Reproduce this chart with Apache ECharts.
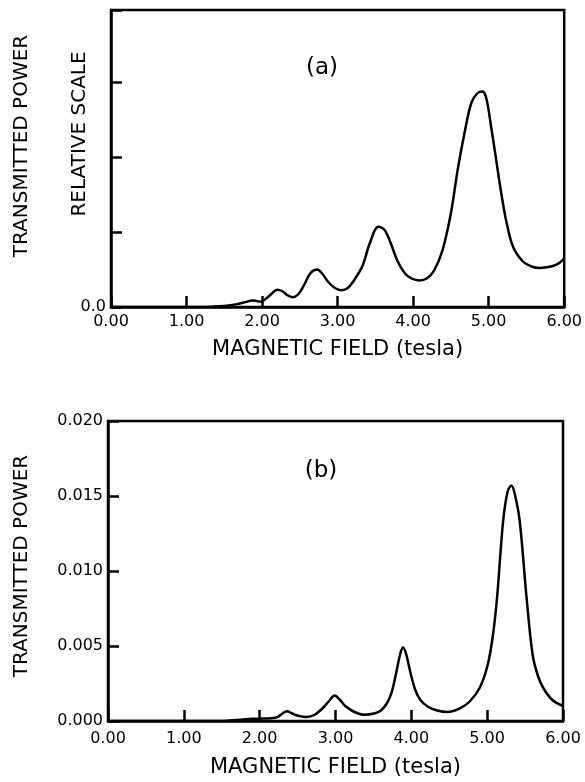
<!DOCTYPE html>
<html>
<head>
<meta charset="utf-8">
<script src="https://cdn.jsdelivr.net/npm/echarts@6/dist/echarts.min.js"></script>
<style>
html,body{margin:0;padding:0;background:#fff;}
#chart{width:585px;height:782px;}
</style>
</head>
<body>
<div id="chart"></div>
<script>
// Panel (a): magnetic field (tesla) and transmitted power (relative scale)
const fieldA = [0.0,0.5,1.0,1.2,1.35,1.5,1.65,1.78,1.87,1.93,1.98,2.05,2.12,2.20,2.27,2.33,2.40,2.48,2.56,2.64,2.73,2.80,2.88,2.97,3.05,3.13,3.22,3.33,3.43,3.54,3.62,3.70,3.79,3.89,3.98,4.08,4.18,4.28,4.39,4.50,4.59,4.68,4.77,4.85,4.92,4.97,5.03,5.10,5.16,5.23,5.32,5.45,5.57,5.67,5.77,5.86,5.94,6.0];
const powerA = [0.0,0.0,0.0,0.0,0.005,0.015,0.035,0.065,0.088,0.08,0.07,0.11,0.17,0.23,0.21,0.16,0.13,0.17,0.30,0.45,0.50,0.44,0.33,0.25,0.225,0.25,0.36,0.55,0.86,1.07,1.03,0.86,0.62,0.45,0.38,0.355,0.38,0.49,0.76,1.25,1.83,2.32,2.72,2.85,2.875,2.78,2.42,1.96,1.56,1.16,0.81,0.61,0.54,0.52,0.53,0.55,0.59,0.65];

// Panel (b): magnetic field (tesla) and transmitted power
const fieldB = [0.0,0.5,1.0,1.5,1.6,1.75,1.9,2.05,2.15,2.24,2.30,2.36,2.43,2.52,2.62,2.72,2.82,2.91,2.99,3.06,3.13,3.25,3.38,3.51,3.60,3.68,3.74,3.80,3.85,3.89,3.93,3.98,4.05,4.12,4.22,4.34,4.48,4.64,4.77,4.90,5.00,5.07,5.13,5.21,5.27,5.32,5.37,5.43,5.52,5.60,5.67,5.74,5.86,6.0];
const powerB = [0.0,0.0,0.0,0.0,0.00003,0.00008,0.00015,0.00016,0.00018,0.00028,0.0005,0.00065,0.0005,0.00033,0.00027,0.0004,0.0008,0.0013,0.0017,0.0014,0.001,0.0006,0.00042,0.0005,0.0007,0.0012,0.0019,0.0032,0.0044,0.0049,0.0045,0.0034,0.0021,0.0014,0.00095,0.0007,0.0006,0.00084,0.0013,0.0022,0.0036,0.0055,0.0082,0.0133,0.0153,0.0157,0.0150,0.0133,0.0082,0.0044,0.0030,0.0022,0.0014,0.0010];

const xTicks = ['0.00','1.00','2.00','3.00','4.00','5.00','6.00'];
const yTicksB = ['0.000','0.005','0.010','0.015','0.020'];
const xTitle = 'MAGNETIC FIELD (tesla)';
const yTitle = 'TRANSMITTED POWER';
const yTitleA2 = 'RELATIVE SCALE';

const FONT = 'DejaVu Sans';
const pairs = (xs, ys) => xs.map((x, i) => [x, ys[i]]);

const axisLineStyle = {show: true, lineStyle: {color: '#000', width: 2.5}};
const tickStyle = {show: true, inside: true, length: 11, lineStyle: {color: '#000', width: 2.5}};

function xAxisFor(gridIndex, gap, margin) {
  return {
    gridIndex, type: 'value', min: 0, max: 6, interval: 1,
    axisLine: axisLineStyle, axisTick: tickStyle, splitLine: {show: false},
    axisLabel: {color: '#000', fontFamily: FONT, fontSize: 16, margin: margin,
      formatter: v => xTicks[Math.round(v)] || ''},
    name: xTitle, nameLocation: 'middle', nameGap: gap,
    nameTextStyle: {color: '#000', fontFamily: FONT, fontSize: 21}
  };
}

const chart = echarts.init(document.getElementById('chart'), null, {renderer: 'canvas'});
chart.setOption({
  backgroundColor: '#fff',
  animation: false,
  grid: [
    {left: 111, top: 10, width: 456, height: 297, show: true, borderColor: '#000', borderWidth: 2.5, backgroundColor: 'transparent'},
    {left: 108, top: 421, width: 455, height: 300, show: true, borderColor: '#000', borderWidth: 2.5, backgroundColor: 'transparent'}
  ],
  xAxis: [xAxisFor(0, 32, 7), xAxisFor(1, 36, 10)],
  yAxis: [
    {gridIndex: 0, type: 'value', min: 0, max: 3.96, interval: 1,
      axisLine: axisLineStyle, axisTick: tickStyle, splitLine: {show: false},
      axisLabel: {color: '#000', fontFamily: FONT, fontSize: 16, margin: 5,
        formatter: v => v === 0 ? '0.0' : ''}},
    {gridIndex: 1, type: 'value', min: 0, max: 0.02, interval: 0.005,
      axisLine: axisLineStyle, axisTick: tickStyle, splitLine: {show: false},
      axisLabel: {color: '#000', fontFamily: FONT, fontSize: 16, margin: 5,
        formatter: v => yTicksB[Math.round(v / 0.005)] || ''}}
  ],
  graphic: [
    {type: 'text', x: 22, y: 146, rotation: Math.PI / 2,
      style: {text: yTitle, fill: '#000', font: '20px "DejaVu Sans"', textAlign: 'center', textVerticalAlign: 'middle'}},
    {type: 'text', x: 80, y: 134, rotation: Math.PI / 2,
      style: {text: yTitleA2, fill: '#000', font: '20px "DejaVu Sans"', textAlign: 'center', textVerticalAlign: 'middle'}},
    {type: 'text', x: 322, y: 68,
      style: {text: '(a)', fill: '#000', font: '23px "DejaVu Sans"', textAlign: 'center', textVerticalAlign: 'middle'}},
    {type: 'text', x: 22, y: 566, rotation: Math.PI / 2,
      style: {text: yTitle, fill: '#000', font: '20px "DejaVu Sans"', textAlign: 'center', textVerticalAlign: 'middle'}},
    {type: 'text', x: 321, y: 471,
      style: {text: '(b)', fill: '#000', font: '23px "DejaVu Sans"', textAlign: 'center', textVerticalAlign: 'middle'}}
  ],
  series: [
    {type: 'line', xAxisIndex: 0, yAxisIndex: 0, data: pairs(fieldA, powerA),
      showSymbol: false, smooth: 0.35, lineStyle: {color: '#000', width: 2.5}},
    {type: 'line', xAxisIndex: 1, yAxisIndex: 1, data: pairs(fieldB, powerB),
      showSymbol: false, smooth: 0.35, lineStyle: {color: '#000', width: 2.5}}
  ]
});
</script>
</body>
</html>
